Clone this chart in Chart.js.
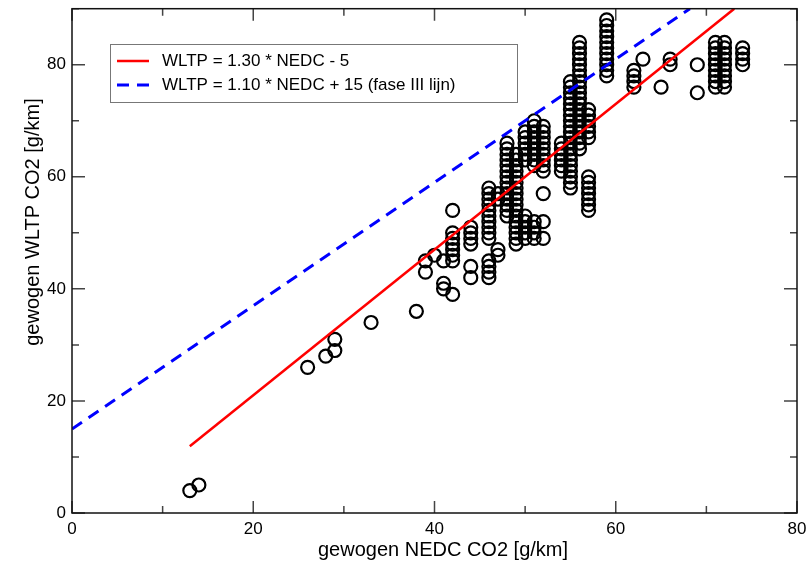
<!DOCTYPE html>
<html lang="nl">
<head>
  <meta charset="UTF-8">
  <title>Gewogen WLTP vs NEDC CO2</title>
  <style>
    html, body {
      margin: 0;
      padding: 0;
      background: #fff;
    }
    #wrap {
      width: 809px;
      height: 570px;
    }
  </style>
  <script src="https://cdn.jsdelivr.net/npm/chart.js"></script>
</head>
<body>
  <div id="wrap">
    <canvas id="co2Chart" width="809" height="570"></canvas>
  </div>

  <script>
    // Measured vehicles, grouped by NEDC value (one column of WLTP values per NEDC value)
    const nedcColumns = [13, 14, 26, 28, 29, 33, 38, 39, 40, 41, 42, 44, 46, 47, 48, 49, 50, 51, 52,
                         54, 55, 56, 57, 59, 62, 63, 65, 66, 69, 71, 72, 74];
    const wltpColumns = [
      [4],
      [5],
      [26],
      [28],
      [29, 31],
      [34],
      [36],
      [43, 45],
      [46],
      [40, 41, 45],
      [39, 45, 46, 47, 48, 49, 50, 54],
      [42, 44, 48, 49, 50, 51],
      [42, 43, 44, 45, 49, 50, 51, 52, 53, 54, 55, 56, 57, 58],
      [46, 47, 56, 57],
      [53, 54, 55, 56, 57, 58, 59, 60, 61, 62, 63, 64, 65, 66],
      [48, 49, 50, 51, 52, 53, 54, 55, 56, 57, 58, 59, 60, 61, 62, 63, 64],
      [49, 50, 51, 52, 53, 63, 64, 65, 66, 67, 68],
      [49, 50, 51, 52, 62, 63, 64, 65, 66, 67, 68, 69, 70],
      [49, 52, 57, 61, 62, 63, 64, 65, 66, 67, 68, 69],
      [61, 62, 63, 64, 65, 66],
      [58, 59, 60, 61, 62, 63, 64, 65, 66, 67, 68, 69, 70, 71, 72, 73, 74, 75, 76, 77],
      [65, 66, 67, 68, 69, 70, 71, 72, 73, 74, 75, 76, 77, 78, 79, 80, 81, 82, 83, 84],
      [54, 55, 56, 57, 58, 59, 60, 67, 68, 69, 70, 71, 72],
      [78, 79, 80, 81, 82, 83, 84, 85, 86, 87, 88],
      [76, 77, 78, 79],
      [81],
      [76],
      [80, 81],
      [75, 80],
      [76, 77, 78, 79, 80, 81, 82, 83, 84],
      [76, 77, 78, 79, 80, 81, 82, 83, 84],
      [80, 81, 82, 83]
    ];

    // Reference lines: WLTP = slope * NEDC + offset
    const fitSlope = 1.30, fitOffset = -5, fitStart = 13;
    const faseSlope = 1.10, faseOffset = 15, faseStart = 0;

    const xTickValues = [0, 20, 40, 60, 80];
    const yTickValues = [0, 20, 40, 60, 80];
    const xMax = 80, yMax = 90;

    const xTitle = 'gewogen NEDC CO2 [g/km]';
    const yTitle = 'gewogen WLTP CO2 [g/km]';

    const points = [];
    nedcColumns.forEach((x, i) => {
      wltpColumns[i].forEach(y => points.push({ x: x, y: y }));
    });

    // line from its start up to where it leaves the top of the plot
    function lineData(slope, offset, start) {
      const end = Math.min(xMax, (yMax - offset) / slope);
      return [
        { x: start, y: slope * start + offset },
        { x: end, y: slope * end + offset }
      ];
    }

    const FONT = "'Liberation Sans', Arial, Helvetica, sans-serif";

    // inward tick marks on all four sides plus the frame
    const frameTicks = {
      id: 'frameTicks',
      afterDatasetsDraw(chart) {
        const { ctx, chartArea: a, scales } = chart;
        ctx.save();
        ctx.strokeStyle = '#444';
        ctx.lineWidth = 1.5;
        ctx.beginPath();
        for (let v = 0; v <= xMax; v += 10) {
          const px = scales.x.getPixelForValue(v);
          const len = v % 20 === 0 ? 12 : 7;
          ctx.moveTo(px, a.bottom); ctx.lineTo(px, a.bottom - len);
          ctx.moveTo(px, a.top); ctx.lineTo(px, a.top + len);
        }
        for (let v = 0; v <= yMax; v += 10) {
          const py = scales.y.getPixelForValue(v);
          const len = v % 20 === 0 ? 13 : 7;
          ctx.moveTo(a.left, py); ctx.lineTo(a.left + len, py);
          ctx.moveTo(a.right, py); ctx.lineTo(a.right - len, py);
        }
        ctx.stroke();
        ctx.strokeStyle = '#111';
        ctx.lineWidth = 1.5;
        ctx.strokeRect(a.left, a.top, a.right - a.left, a.bottom - a.top);
        ctx.restore();
      }
    };

    // axis titles, placed a little off the plot centre
    const axisTitles = {
      id: 'axisTitles',
      afterDraw(chart) {
        const ctx = chart.ctx;
        ctx.save();
        ctx.fillStyle = '#000';
        ctx.font = '20px ' + FONT;
        ctx.textAlign = 'center';
        ctx.textBaseline = 'middle';
        ctx.fillText(xTitle, 443, 550);
        ctx.translate(33, 222);
        ctx.rotate(-Math.PI / 2);
        ctx.fillText(yTitle, 0, 0);
        ctx.restore();
      }
    };

    // boxed legend inside the plot, top left
    const boxLegend = {
      id: 'boxLegend',
      afterDraw(chart) {
        const ctx = chart.ctx;
        const sets = chart.data.datasets.filter(d => d.type === 'line');
        const bx = 110, by = 44, bw = 407, bh = 58;
        ctx.save();
        ctx.fillStyle = '#fff';
        ctx.fillRect(bx, by, bw, bh);
        ctx.strokeStyle = '#777';
        ctx.lineWidth = 1;
        ctx.strokeRect(bx + 0.5, by + 0.5, bw, bh);
        ctx.font = '17px ' + FONT;
        ctx.textBaseline = 'middle';
        sets.forEach((d, i) => {
          const y = 61 + i * 24;
          ctx.strokeStyle = d.borderColor;
          ctx.lineWidth = d.borderWidth;
          ctx.setLineDash(d.borderDash || []);
          ctx.beginPath();
          ctx.moveTo(117, y);
          ctx.lineTo(149, y);
          ctx.stroke();
          ctx.setLineDash([]);
          ctx.fillStyle = '#000';
          ctx.fillText(d.label, 162, y);
        });
        ctx.restore();
      }
    };

    const ctxCo2 = document.getElementById('co2Chart').getContext('2d');

    const co2Chart = new Chart(ctxCo2, {
      type: 'scatter',
      data: {
        datasets: [
          {
            type: 'line',
            label: 'WLTP = 1.30 * NEDC - 5',
            data: lineData(fitSlope, fitOffset, fitStart),
            borderColor: '#ff0000',
            borderWidth: 2.5,
            pointRadius: 0,
            fill: false,
            order: 0
          },
          {
            type: 'line',
            label: 'WLTP = 1.10 * NEDC + 15 (fase III lijn)',
            data: lineData(faseSlope, faseOffset, faseStart),
            borderColor: '#0000ff',
            borderWidth: 3,
            borderDash: [12, 8],
            pointRadius: 0,
            fill: false,
            order: 0
          },
          {
            label: 'metingen',
            data: points,
            pointStyle: 'circle',
            pointRadius: 6.5,
            pointBorderWidth: 2.2,
            pointBorderColor: '#000',
            pointBackgroundColor: 'rgba(0,0,0,0)',
            order: 1
          }
        ]
      },
      options: {
        responsive: false,
        animation: false,
        devicePixelRatio: 1,
        layout: {
          padding: { top: 8, right: 12, left: 0, bottom: 0 }
        },
        plugins: {
          legend: { display: false },
          tooltip: { enabled: false }
        },
        scales: {
          x: {
            type: 'linear',
            min: 0,
            max: xMax,
            afterBuildTicks: scale => { scale.ticks = xTickValues.map(v => ({ value: v })); },
            afterFit: scale => {
              scale.height = 57;
              scale.paddingLeft = 0;
              scale.paddingRight = 0;
            },
            grid: { display: false, drawTicks: false },
            border: { display: false },
            ticks: {
              color: '#000',
              padding: 6,
              maxRotation: 0,
              font: { family: FONT, size: 17 }
            }
          },
          y: {
            type: 'linear',
            min: 0,
            max: yMax,
            afterBuildTicks: scale => { scale.ticks = yTickValues.map(v => ({ value: v })); },
            afterFit: scale => {
              scale.width = 72;
              scale.paddingTop = 0;
              scale.paddingBottom = 0;
            },
            grid: { display: false, drawTicks: false },
            border: { display: false },
            ticks: {
              color: '#000',
              padding: 6,
              font: { family: FONT, size: 17 }
            }
          }
        }
      },
      plugins: [frameTicks, axisTitles, boxLegend]
    });
  </script>
</body>
</html>
